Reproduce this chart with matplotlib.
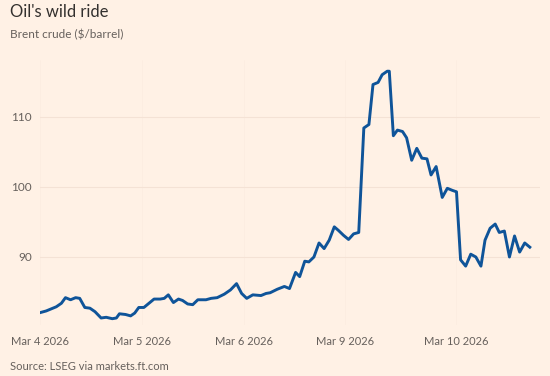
import matplotlib
matplotlib.use("Agg")
import matplotlib.pyplot as plt

# trading-session position (days since Mar 4 open) and Brent price
t = [0.01, 0.06, 0.11, 0.16, 0.21, 0.25, 0.30, 0.35, 0.39, 0.44,
     0.49, 0.54, 0.60, 0.65, 0.71, 0.75, 0.78, 0.84, 0.89, 0.93,
     0.97, 1.02, 1.07, 1.12, 1.18, 1.22, 1.26, 1.31, 1.36, 1.40,
     1.45, 1.50, 1.55, 1.63, 1.68, 1.74, 1.81, 1.87, 1.93, 1.98,
     2.03, 2.09, 2.17, 2.22, 2.26, 2.33, 2.40, 2.45, 2.51, 2.55,
     2.60, 2.64, 2.69, 2.74, 2.79, 2.84, 2.89, 2.93, 2.98, 3.03,
     3.08, 3.13, 3.18, 3.23, 3.27, 3.32, 3.36, 3.41, 3.43, 3.47,
     3.51, 3.56, 3.60, 3.65, 3.70, 3.75, 3.80, 3.84, 3.89, 3.95,
     4.00, 4.05, 4.09, 4.13, 4.18, 4.23, 4.28, 4.33, 4.37, 4.42,
     4.47, 4.51, 4.56, 4.61, 4.66, 4.71, 4.76, 4.81]
price = [82.1, 82.3, 82.6, 82.9, 83.4, 84.2, 83.9, 84.2, 84.1, 82.8,
         82.7, 82.2, 81.3, 81.4, 81.2, 81.3, 81.9, 81.8, 81.6, 82.0,
         82.8, 82.8, 83.4, 84.0, 84.0, 84.1, 84.6, 83.5, 84.0, 83.8,
         83.3, 83.2, 83.9, 83.9, 84.1, 84.2, 84.7, 85.3, 86.2, 84.8,
         84.1, 84.6, 84.5, 84.8, 84.9, 85.4, 85.8, 85.5, 87.8, 87.2,
         89.4, 89.3, 90.0, 92.0, 91.2, 92.4, 94.3, 93.8, 93.1, 92.5,
         93.3, 93.5, 108.4, 108.9, 114.6, 114.9, 116.0, 116.5, 116.5, 107.3,
         108.1, 107.9, 107.0, 103.8, 105.5, 104.1, 104.0, 101.7, 102.9, 98.5,
         99.8, 99.5, 99.3, 89.6, 88.7, 90.4, 90.0, 88.7, 92.4, 94.1,
         94.7, 93.5, 93.7, 90.0, 93.0, 90.7, 92.0, 91.4]

tick_pos = [0, 1, 2, 3, 4.09]
tick_labels = ["Mar 4 2026", "Mar 5 2026", "Mar 6 2026", "Mar 9 2026", "Mar 10 2026"]
y_ticks = [90, 100, 110]

BG = "#fff1e5"
LINE = "#0f5499"
GRID = "#f4e2d5"
GREY = "#66605c"

plt.rcParams['font.family'] = ['Lato', 'DejaVu Sans']

fig = plt.figure(figsize=(5.5, 3.76), dpi=100, facecolor=BG)
ax = fig.add_axes([40 / 550, 51 / 376, 500 / 550, 265 / 376], facecolor=BG)

ax.plot(t, price, color=LINE, lw=2.1, solid_joinstyle="round")

ax.set_xlim(0.0, 4.91)
ax.set_ylim(80.3, 118.1)
ax.set_yticks(y_ticks)
ax.set_xticks(tick_pos)
ax.set_xticklabels(tick_labels)
ax.tick_params(length=0, labelsize=8, colors=GREY)
ax.tick_params(axis="y", labelsize=8.5, pad=6)
ax.tick_params(axis="x", pad=8)
ax.grid(axis="y", color=GRID, lw=0.8)
ax.grid(axis="x", color=GRID, lw=0.5, alpha=0.3)
for s in ax.spines.values():
    s.set_visible(False)

fig.text(10 / 550, 1 - 12 / 376, "Oil's wild ride", fontsize=12, color="#33302e", va="center")
fig.text(10 / 550, 1 - 35 / 376, "Brent crude (\\$/barrel)", fontsize=8.5, color=GREY, va="center")
fig.text(10 / 550, 1 - 366 / 376, "Source: LSEG via markets.ft.com", fontsize=8, color=GREY, va="center")

fig.savefig("out.png", dpi=100, facecolor=BG)
